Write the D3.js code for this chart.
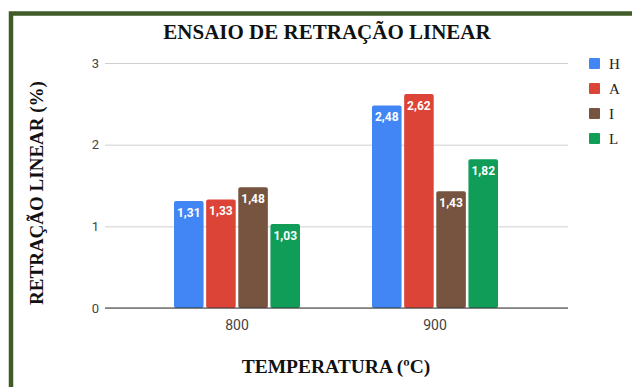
<!DOCTYPE html>
<html>
  <head>
    <style>
      body,
      html {
        margin: 0;
        padding: 0;
        background: #fff;
      }
    </style>
  </head>
  <body>
    <svg id="svg" width="632" height="387"></svg>

    <script src="https://cdn.jsdelivr.net/npm/d3@7"></script>
    <script>
      const categories = ['800', '900'];
      const series = ['H', 'A', 'I', 'L'];
      const seriesColors = ['#4285f4', '#db4437', '#765440', '#0f9d58'];
      const valuesH = [1.31, 2.48];
      const valuesA = [1.33, 2.62];
      const valuesI = [1.48, 1.43];
      const valuesL = [1.03, 1.82];
      const yTicks = [0, 1, 2, 3];

      const seriesValues = [valuesH, valuesA, valuesI, valuesL];
      const data = categories.map((c, i) => ({
        cat: c,
        vals: series.map((s, j) => ({ key: s, value: seriesValues[j][i] })),
      }));

      const svg = d3.select('#svg');
      const plot = { left: 105, right: 568, top: 63, bottom: 308 };

      // frame
      svg
        .append('path')
        .attr('d', 'M11,387 V13.5 H632')
        .attr('fill', 'none')
        .attr('stroke', '#3f5b26')
        .attr('stroke-width', 4.5);

      const yScale = d3.scaleLinear().domain([0, 3]).range([plot.bottom, plot.top]);

      const xScale = d3.scaleBand().domain(categories).range([138, 534]).padding(0);
      const innerScale = d3
        .scaleBand()
        .domain(series)
        .range([36, 162])
        .paddingInner(0.08);
      const color = d3.scaleOrdinal().domain(series).range(seriesColors);

      const leftAxis = d3
        .axisLeft(yScale)
        .tickValues(yTicks)
        .tickSize(-(plot.right - plot.left))
        .tickPadding(10)
        .tickFormat(d3.format('d'));

      const yg = svg
        .append('g')
        .attr('transform', `translate(${plot.left}, 0)`)
        .call(leftAxis);
      yg.select('.domain').remove();
      yg.selectAll('.tick line').attr('stroke', '#d0d0d0');
      yg.selectAll('.tick text')
        .attr('fill', '#444')
        .attr('font-family', 'Roboto, sans-serif')
        .attr('font-size', 13)
        .attr('x', -6);

      const groups = svg
        .selectAll('.grp')
        .data(data)
        .enter()
        .append('g')
        .attr('class', 'grp')
        .attr('transform', (d) => `translate(${xScale(d.cat)}, 0)`);

      groups
        .selectAll('rect')
        .data((d) => d.vals)
        .enter()
        .append('rect')
        .attr('x', (d) => innerScale(d.key))
        .attr('y', (d) => yScale(d.value))
        .attr('width', innerScale.bandwidth())
        .attr('height', (d) => yScale(0) - yScale(d.value))
        .attr('rx', 2)
        .attr('fill', (d) => color(d.key));

      groups
        .selectAll('text')
        .data((d) => d.vals)
        .enter()
        .append('text')
        .attr('x', (d) => innerScale(d.key) + innerScale.bandwidth() / 2)
        .attr('y', (d) => yScale(d.value) + 16)
        .attr('text-anchor', 'middle')
        .attr('fill', '#fff')
        .attr('font-family', 'Roboto, sans-serif')
        .attr('font-weight', 'bold')
        .attr('font-size', 12)
        .text((d) => d3.format('.2f')(d.value).replace('.', ','));

      // baseline
      svg
        .append('line')
        .attr('x1', plot.left)
        .attr('x2', plot.right)
        .attr('y1', yScale(0))
        .attr('y2', yScale(0))
        .attr('stroke', '#333')
        .attr('stroke-width', 1);

      const bottomAxis = d3.axisBottom(xScale).tickSize(0).tickPadding(12);
      const xg = svg
        .append('g')
        .attr('transform', `translate(0, ${plot.bottom})`)
        .call(bottomAxis);
      xg.select('.domain').remove();
      xg.selectAll('.tick text')
        .attr('fill', '#444')
        .attr('font-family', 'Roboto, sans-serif')
        .attr('font-size', 14);

      const serif = '"Liberation Serif", "Times New Roman", serif';

      svg
        .append('text')
        .attr('x', 327)
        .attr('y', 39)
        .attr('text-anchor', 'middle')
        .attr('font-family', serif)
        .attr('font-weight', 'bold')
        .attr('font-size', 21)
        .attr('fill', '#111')
        .text('ENSAIO DE RETRAÇÃO LINEAR');

      svg
        .append('text')
        .attr('transform', 'translate(43, 193) rotate(-90)')
        .attr('text-anchor', 'middle')
        .attr('font-family', serif)
        .attr('font-weight', 'bold')
        .attr('font-size', 19)
        .attr('fill', '#111')
        .text('RETRAÇÃO LINEAR (%)');

      svg
        .append('text')
        .attr('x', 336)
        .attr('y', 373)
        .attr('text-anchor', 'middle')
        .attr('font-family', serif)
        .attr('font-weight', 'bold')
        .attr('font-size', 19.5)
        .attr('fill', '#111')
        .text('TEMPERATURA (ºC)');

      const legend = svg
        .selectAll('.leg')
        .data(series)
        .enter()
        .append('g')
        .attr('class', 'leg')
        .attr('transform', (d, i) => `translate(589, ${58 + i * 25})`);

      legend
        .append('rect')
        .attr('width', 11)
        .attr('height', 11)
        .attr('rx', 1)
        .attr('fill', (d) => color(d));

      legend
        .append('text')
        .attr('x', 20)
        .attr('y', 11)
        .attr('font-family', serif)
        .attr('font-size', 15)
        .attr('fill', '#222')
        .text((d) => d);
    </script>
  </body>
</html>
